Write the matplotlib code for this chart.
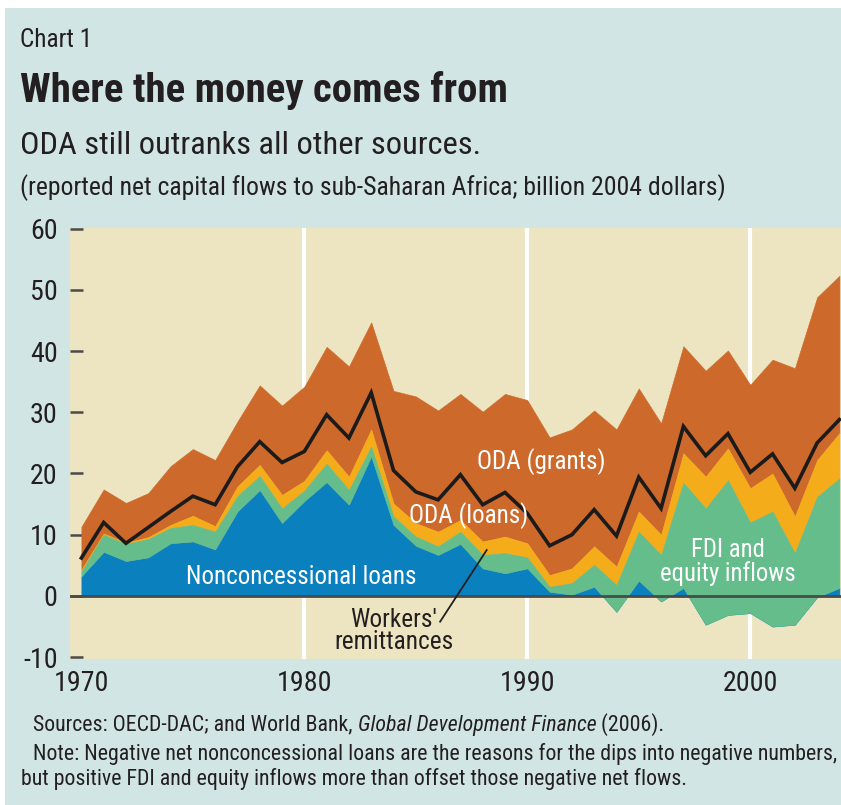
import matplotlib
matplotlib.use("Agg")
import matplotlib.pyplot as plt
from matplotlib.patches import Rectangle
import numpy as np

plt.rcParams['font.family'] = ['Liberation Sans Narrow', 'Roboto Condensed', 'Liberation Sans', 'DejaVu Sans']
plt.rcParams['axes.unicode_minus'] = False

# ---------------- data (billion 2004 dollars) ----------------
years = list(range(1970, 2005))
nonconcessional_loans = [3.2, 7.2, 5.7, 6.3, 8.6, 8.9, 7.6, 13.8, 17.3, 11.9,
                         15.5, 18.6, 14.9, 22.8, 11.6, 8.2, 6.7, 8.5, 4.5, 3.7,
                         4.5, 0.7, 0.2, 1.5, -2.6, 2.5, -0.9, 1.3, -4.7, -3.1,
                         -2.8, -5.0, -4.7, -0.2, 1.3]
fdi_equity_remittances = [0.8, 2.8, 2.8, 3.0, 2.5, 2.7, 2.9, 2.5, 2.3, 2.4,
                          1.7, 3.0, 2.4, 1.6, 1.4, 1.5, 1.4, 2.0, 2.2, 3.3,
                          1.8, 0.8, 1.9, 3.6, 4.4, 8.0, 7.6, 17.2, 19.0, 22.0,
                          14.8, 18.8, 11.7, 16.4, 17.9]
oda_loans = [0.3, 0.2, 0.2, 0.3, 0.5, 1.5, 0.9, 1.6, 1.8, 2.2,
             1.6, 2.2, 2.2, 2.8, 2.1, 2.2, 2.4, 1.9, 2.2, 2.7,
             2.3, 1.9, 2.4, 3.0, 3.0, 3.3, 3.3, 4.8, 5.2, 5.2,
             5.6, 6.2, 6.0, 6.0, 7.4]
oda_grants = [7.0, 7.2, 6.5, 7.2, 9.6, 10.9, 10.8, 10.6, 13.0, 14.6,
              15.4, 16.9, 18.0, 17.5, 18.4, 20.7, 19.8, 20.6, 21.2, 23.3,
              23.4, 22.5, 22.7, 22.2, 22.4, 20.1, 18.2, 17.5, 17.3, 16.0,
              16.9, 18.6, 24.2, 26.6, 25.7]
black_line = [6.2, 12.0, 8.6, 11.2, 13.8, 16.3, 14.9, 21.1, 25.2, 21.8,
              23.6, 29.6, 25.8, 33.2, 20.5, 17.0, 15.7, 19.8, 14.9, 16.9,
              13.5, 8.2, 10.0, 14.1, 9.8, 19.4, 14.3, 27.7, 22.9, 26.5,
              20.2, 23.2, 17.6, 25.0, 28.8]
y_ticks = [-10, 0, 10, 20, 30, 40, 50, 60]
x_ticks = [1970, 1980, 1990, 2000]

# ---------------- styling ----------------
W, H = 841, 805
PANEL = '#d1e6e4'
BEIGE = '#ede5c1'
BLUE = '#0b80bf'
GREEN = '#64bd8b'
YELLOW = '#f5ac1b'
ORANGE = '#cd6a2b'
TXT = '#231f20'

fig = plt.figure(figsize=(W / 100, H / 100), dpi=100)
fig.patch.set_facecolor('white')
fig.add_artist(Rectangle((5 / W, 0), 1 - 5 / W, 1 - 8 / H, transform=fig.transFigure,
                         facecolor=PANEL, edgecolor='none', zorder=0))
renderer = fig.canvas.get_renderer()


def fx(x):
    return x / W


def fy(y):
    return 1 - y / H


def fit_size(s, target_px, **kw):
    """font size giving the string a rendered width of target_px"""
    t = fig.text(0, 0, s, fontsize=10, **kw)
    w = t.get_window_extent(renderer).width
    t.remove()
    return 10.0 * target_px / w


ax = fig.add_axes([fx(70), fy(659), fx(841) - fx(70), fy(228) - fy(659)])
ax.set_facecolor(BEIGE)
ax.set_xlim(1969.49, 2004.07)
ax.set_ylim(-10.3, 60.1)
for s in ax.spines.values():
    s.set_visible(False)

x = np.array(years, dtype=float)
c1 = np.array(nonconcessional_loans)
c2 = c1 + np.array(fdi_equity_remittances)
c3 = c2 + np.array(oda_loans)
c4 = c3 + np.array(oda_grants)

for xv in x_ticks[1:]:
    ax.axvline(xv, color='white', lw=3, zorder=1)

kw = dict(linewidth=0.4, zorder=2)
ax.fill_between(x, c3, c4, facecolor=ORANGE, edgecolor=ORANGE, **kw)
ax.fill_between(x, c2, c3, facecolor=YELLOW, edgecolor=YELLOW, **kw)
ax.fill_between(x, 0, c1, facecolor=BLUE, edgecolor=BLUE, **kw)
ax.fill_between(x, c1, c2, facecolor=GREEN, edgecolor=GREEN, **kw)

ax.axhline(0, color='#4a4a4a', lw=2, zorder=3)
ax.plot(x, black_line, color='#1b1b1b', lw=2.6, zorder=4, solid_joinstyle='miter')

tick_size = fit_size('1970', 55)
ax.set_yticks(y_ticks)
ax.set_yticklabels([str(v) for v in y_ticks])
ax.tick_params(axis='y', direction='in', length=9, width=1.8, color='#4a4a4a',
               pad=9, labelsize=tick_size, labelcolor=TXT)
ax.set_xticks(x_ticks)
ax.set_xticklabels([str(v) for v in x_ticks])
ax.tick_params(axis='x', length=0, pad=8, labelsize=tick_size, labelcolor=TXT)

# in-chart labels
lab = fit_size('Nonconcessional loans', 231)
ax.text(1990.61, 21.9, 'ODA (grants)', color='white', fontsize=lab, ha='center', va='center', zorder=6)
ax.text(1987.39, 13.2, 'ODA (loans)', color='white', fontsize=lab, ha='center', va='center', zorder=6)
ax.text(1979.87, 3.1, 'Nonconcessional loans', color='white', fontsize=lab, ha='center', va='center', zorder=6)
ax.text(1998.98, 5.6, 'FDI and\nequity inflows', color='white', fontsize=fit_size('equity inflows', 135),
        ha='center', va='center', linespacing=0.95, zorder=6)
ax.text(1984.01, -5.7, "Workers'\nremittances", color=TXT, fontsize=fit_size('remittances', 118),
        ha='center', va='center', linespacing=0.92, zorder=6)
ax.plot([1986.09, 1988.18], [-4.2, 7.5], color=TXT, lw=1.3, zorder=6)

# titles
fig.text(fx(20), fy(40), 'Chart 1', fontsize=fit_size('Chart 1', 72), color=TXT, va='center', ha='left')
title = 'Where the money comes from'
fig.text(fx(20), fy(90), title, fontsize=fit_size(title, 488, fontweight='bold'), fontweight='bold',
         color=TXT, va='center', ha='left')
sub = 'ODA still outranks all other sources.'
fig.text(fx(20), fy(145), sub, fontsize=fit_size(sub, 458), color=TXT, va='center', ha='left')
unit = '(reported net capital flows to sub-Saharan Africa; billion 2004 dollars)'
fig.text(fx(20), fy(188), unit, fontsize=fit_size(unit, 702), color=TXT, va='center', ha='left')

# footer
note1 = 'Note: Negative net nonconcessional loans are the reasons for the dips into negative numbers,'
note2 = 'but positive FDI and equity inflows more than offset those negative net flows.'
fsz = fit_size(note1, 800)
parts = [('Sources: OECD-DAC; and World Bank, ', 'normal'),
         ('Global Development Finance', 'italic'),
         (' (2006).', 'normal')]
xpos = fx(33)
for txt, st in parts:
    t = fig.text(xpos, fy(725), txt, fontsize=fsz, color=TXT, va='center', ha='left', style=st)
    bb = t.get_window_extent(renderer)
    xpos = bb.x1 / fig.bbox.width
fig.text(fx(33), fy(754), note1, fontsize=fsz, color=TXT, va='center', ha='left')
fig.text(fx(21), fy(779), note2, fontsize=fsz, color=TXT, va='center', ha='left')

fig.savefig('out.png', dpi=100, facecolor=fig.get_facecolor())
